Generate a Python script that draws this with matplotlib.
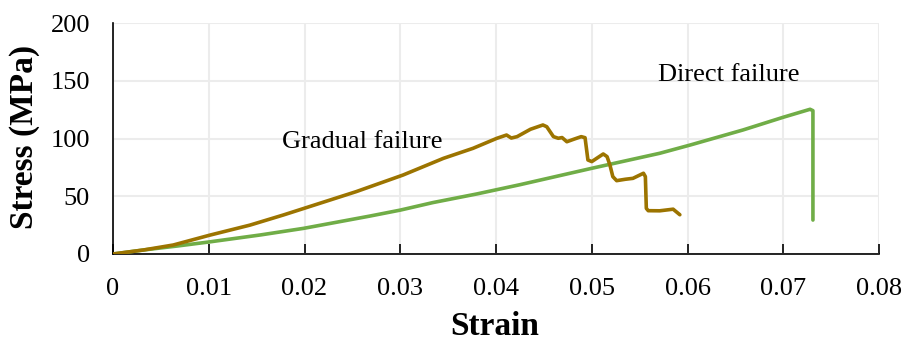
import matplotlib
matplotlib.use("Agg")
import matplotlib.pyplot as plt

# Stress-strain curves for two specimens
gradual_strain = [0.0, 0.0032, 0.0063, 0.0101, 0.0143, 0.0178, 0.0216, 0.0254, 0.0303,
                  0.0345, 0.0376, 0.0401, 0.0411, 0.0416, 0.0422, 0.0436, 0.0449, 0.0453,
                  0.0460, 0.0465, 0.0469, 0.0474, 0.0481, 0.0489, 0.0493, 0.0496, 0.0500,
                  0.0512, 0.0516, 0.0519, 0.0522, 0.0526, 0.0535, 0.0543, 0.0554, 0.0556,
                  0.0557, 0.0559, 0.0571, 0.0585, 0.0592]
gradual_stress = [0.0, 3.5, 7.8, 16.3, 25.0, 33.8, 43.9, 54.0, 68.4,
                  82.8, 91.5, 100.2, 103.0, 100.4, 101.6, 108.0, 111.7, 110.2,
                  101.6, 100.2, 100.8, 97.2, 99.3, 101.6, 100.7, 81.4, 80.0,
                  86.6, 84.3, 77.0, 67.0, 63.5, 64.7, 65.5, 69.9, 67.0,
                  39.5, 37.5, 37.4, 38.8, 34.0]

direct_strain = [0.0, 0.0035, 0.0067, 0.0101, 0.0154, 0.0199, 0.0268, 0.0300, 0.0334,
                 0.0380, 0.0425, 0.0500, 0.0571, 0.0603, 0.0658, 0.0700, 0.0728, 0.0731,
                 0.0731]
direct_stress = [0.0, 3.8, 6.9, 10.5, 16.5, 22.2, 32.8, 38.0, 44.5,
                 52.0, 60.0, 74.2, 87.2, 94.4, 107.4, 118.4, 125.3, 124.1,
                 29.4]

x_ticks = [0, 0.01, 0.02, 0.03, 0.04, 0.05, 0.06, 0.07, 0.08]
x_tick_labels = ["0", "0.01", "0.02", "0.03", "0.04", "0.05", "0.06", "0.07", "0.08"]
y_ticks = [0, 50, 100, 150, 200]

plt.rcParams["font.family"] = ["Liberation Serif", "DejaVu Serif"]

fig = plt.figure(figsize=(9.07, 3.41), dpi=100)
ax = fig.add_axes([113 / 907, 1 - 254 / 341, (879 - 113) / 907, (254 - 23) / 341])

ax.plot(direct_strain, direct_stress, color="#70AD47", lw=2.6, solid_joinstyle="round",
        solid_capstyle="round", zorder=3)
ax.plot(gradual_strain, gradual_stress, color="#9C7400", lw=2.6, solid_joinstyle="round",
        solid_capstyle="round", zorder=4)

ax.set_xlim(0, 0.08)
ax.set_ylim(0, 200)
ax.set_xticks(x_ticks)
ax.set_xticklabels(x_tick_labels)
ax.set_yticks(y_ticks)

ax.grid(True, color="#ECECEC", lw=1.5)
ax.set_axisbelow(True)
for side in ("top", "right"):
    ax.spines[side].set_visible(False)
for side in ("left", "bottom"):
    ax.spines[side].set_color("black")
    ax.spines[side].set_linewidth(1.2)

ax.tick_params(axis="x", direction="in", length=7, width=1.2, pad=17, labelsize=19)
ax.tick_params(axis="y", length=0, pad=16.5, labelsize=19)

ax.set_xlabel("Strain", fontsize=24, fontweight="bold")
ax.xaxis.label.set_va("baseline")
ax.xaxis.set_label_coords(0.5 + (495 - 496) / 766, -(335 - 254) / 231)
ax.set_ylabel("Stress (MPa)", fontsize=24, fontweight="bold")
ax.yaxis.label.set_va("center")
ax.yaxis.set_label_coords((25 - 113) / 766, (254 - 137) / 231)

ax.text(0.02606, 91.5, "Gradual failure", fontsize=19, ha="center", va="baseline")
ax.text(0.06433, 150.0, "Direct failure", fontsize=19, ha="center", va="baseline")

fig.savefig("out.png", dpi=100)
